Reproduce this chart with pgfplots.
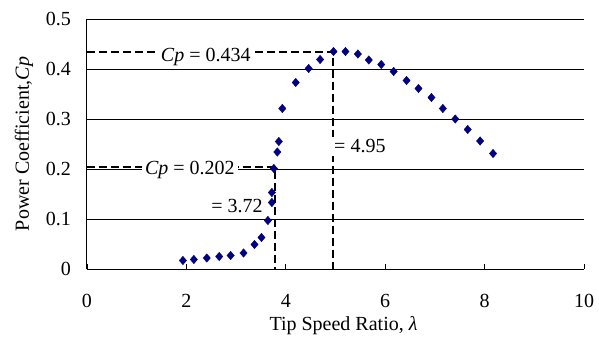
\documentclass[border=0pt]{standalone}
\usepackage{fontspec}
\setmainfont{Liberation Serif}
\usepackage{pgfplots}
\pgfplotsset{compat=1.18}
\definecolor{navy}{RGB}{0,0,128}
\begin{document}
\begin{tikzpicture}[font=\fontsize{20bp}{24bp}\selectfont]
\begin{axis}[name=ax,
  scale only axis, width=497bp, height=250bp,
  xmin=0, xmax=10, ymin=0, ymax=0.5,
  axis x line*=bottom, axis y line*=left,
  axis line style={black, line width=1bp},
  xtick={0,2,4,6,8,10}, ytick={0,0.1,0.2,0.3,0.4,0.5},
  xtick align=inside, major tick length=5bp,
  ytick style={draw=none},
  xtick style={black, line width=0.8bp},
  ymajorgrids, grid style={black, line width=0.8bp},
  /pgf/number format/assume math mode=true,
  tick label style={font=\fontsize{20bp}{24bp}\selectfont},
  xticklabel style={anchor=north, inner sep=0pt, yshift=-25bp},
  yticklabel style={anchor=east, inner sep=0pt, xshift=-16bp},
  xlabel={Tip Speed Ratio, \textit{λ}},
  ylabel={Power Coefficient,\textit{Cp}},
  xlabel style={at={(axis description cs:0.5,0)}, anchor=center, yshift=-57bp, xshift=8bp},
  ylabel style={at={(axis description cs:0,0.5)}, anchor=center, yshift=63bp},
  label style={font=\fontsize{20bp}{24bp}\selectfont},
  clip=false,
]
\addplot[black, dashed, line width=1.3bp, dash pattern=on 8bp off 4bp] coordinates {(0,0.434) (4.95,0.434) (4.95,0)};
\addplot[black, dashed, line width=1.3bp, dash pattern=on 8bp off 4bp] coordinates {(0,0.204) (3.78,0.204) (3.78,0)};
\node[fill=white, inner xsep=4bp, inner ysep=0.5bp, anchor=center] at (axis cs:2.39,0.424) {\textit{Cp} = 0.434};
\node[fill=white, inner sep=3bp, anchor=center] at (axis cs:2.07,0.198) {\textit{Cp} = 0.202};
\node[fill=white, inner sep=3bp, anchor=east] at (axis cs:3.60,0.125) {= 3.72};
\node[fill=white, inner sep=3bp, anchor=west] at (axis cs:4.91,0.245) {= 4.95};
\addplot[only marks, mark=diamond*, mark size=4.2bp, color=navy, mark options={fill=navy, draw=navy, xscale=1.15}] coordinates {
(1.93,0.017) (2.15,0.019) (2.41,0.022) (2.66,0.025) (2.89,0.027) (3.15,0.032)
(3.37,0.049) (3.51,0.063) (3.64,0.097) (3.72,0.133) (3.72,0.153) (3.76,0.201)
(3.83,0.234) (3.86,0.255) (3.93,0.321) (4.20,0.373) (4.46,0.401) (4.69,0.419)
(4.96,0.435) (5.20,0.435) (5.45,0.430) (5.67,0.418) (5.92,0.409) (6.17,0.395)
(6.43,0.377) (6.67,0.361) (6.93,0.343) (7.16,0.321) (7.41,0.300) (7.66,0.279)
(7.91,0.256) (8.17,0.231)};
\end{axis}
\pgfresetboundingbox
\path[use as bounding box] (ax.south west) ++(-87bp,-69bp) rectangle ++(599bp,338bp);
\end{tikzpicture}
\end{document}
